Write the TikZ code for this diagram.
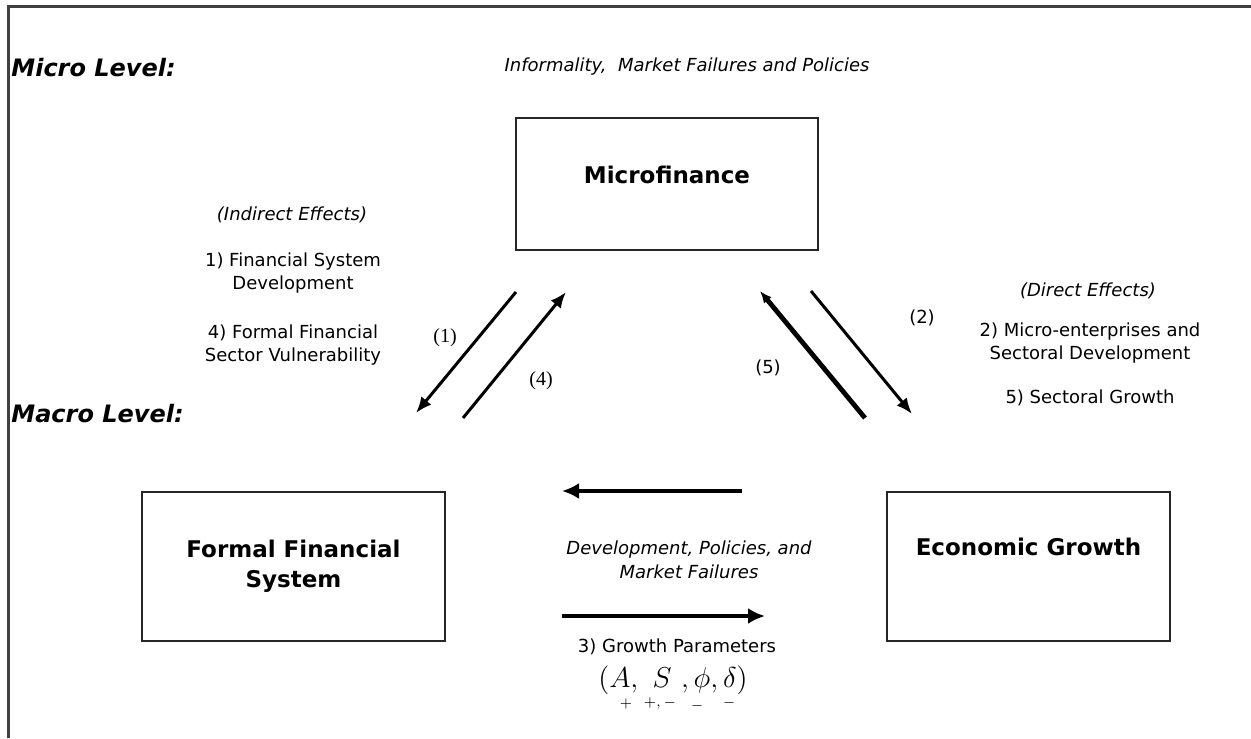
\documentclass[tikz,border=0pt]{standalone}
\usepackage{fontspec}
\setmainfont{DejaVu Sans}
\newfontfamily\numfont{Liberation Serif}
\usetikzlibrary{arrows.meta}
\newcommand{\smallText}[0]{\fontsize{9}{11.5}\selectfont}

\begin{document}
\begin{tikzpicture}[x=0.5pt, y=-0.5pt, >={Latex[length=8pt,width=6.5pt]}]
  \tikzset{box/.style={draw=black!85, line width=1pt, inner sep=0pt, align=center,
      font=\fontsize{11.5}{15}\selectfont\bfseries},
    level/.style={anchor=west, inner sep=0pt, font=\fontsize{12}{14}\selectfont\bfseries\itshape},
    note/.style={align=center, inner sep=0pt, font=\smallText},
    inote/.style={note, font=\smallText\itshape},
    tag/.style={inner sep=0pt, font=\smallText},
    link/.style={->, line width=1.5pt},
    sign/.style={inner sep=0pt, font=\fontsize{7}{7}\selectfont}}
  \useasboundingbox (0,0) rectangle (1251,738);
  \draw[black!75, line width=1.5pt] (8,738) -- (8,7) -- (1251,7);

  \node[level] (microLevel) at (11,68) {Micro Level:};
  \node[level] (macroLevel) at (11,414) {Macro Level:};
  \node[inote] (informality) at (687,67) {Informality,\ \ Market Failures and Policies};

  \node[box, minimum width=151pt, minimum height=66pt, text depth=9pt] (micro) at (667,184) {Microfinance};
  \node[box, minimum width=151.5pt, minimum height=74.5pt] (formal) at (293.5,566.5) {Formal Financial\\System};
  \node[box, minimum width=141.5pt, minimum height=74.5pt, text depth=20pt] (growth) at (1028.5,566.5) {Economic Growth};

  \node[inote] (indirect) at (292,215) {(Indirect Effects)};
  \node[note] (effOne) at (293,273) {1) Financial System\\Development};
  \node[note] (effFour) at (293,345) {4) Formal Financial\\Sector Vulnerability};
  \node[inote] (direct) at (1088,291) {(Direct Effects)};
  \node[note] (effTwo) at (1090,343) {2) Micro-enterprises and\\Sectoral Development};
  \node[note] (effFive) at (1090,398) {5) Sectoral Growth};

  \node[inote, font=\fontsize{9}{12}\selectfont\itshape] (devNote) at (689,560) {Development, Policies, and\\Market Failures};
  \node[note] (params) at (677,647) {3) Growth Parameters};
  \node[inner sep=0pt, font=\fontsize{15}{15}\selectfont] (formula) at (673,680) {$(A,\ S\ ,\phi,\delta)$};
  \node[sign] (signA) at (626,704) {$+$};
  \node[sign] (signS) at (660,704) {$+,-$};
  \node[sign] (signPhi) at (697,706) {$-$};
  \node[sign] (signDelta) at (729,703) {$-$};

  \node[tag, font=\fontsize{10}{12}\numfont] (tagOne) at (445,338) {(1)};
  \node[tag, font=\fontsize{10}{12}\numfont] (tagFour) at (541,381) {(4)};
  \node[tag] (tagFive) at (768,368) {(5)};
  \node[tag] (tagTwo) at (922,318) {(2)};

  \coordinate (oneFrom) at (516,292);
  \coordinate (oneTo) at (416,413);
  \coordinate (fourFrom) at (463,418);
  \coordinate (fourTo) at (566,292);
  \coordinate (fiveFrom) at (865,418);
  \coordinate (fiveTo) at (760,291);
  \coordinate (twoFrom) at (811,291);
  \coordinate (twoTo) at (912,414);
  \coordinate (backFrom) at (742,491);
  \coordinate (backTo) at (562,491);
  \coordinate (threeFrom) at (562,616);
  \coordinate (threeTo) at (765,616);

  \draw[link] (oneFrom) -- (oneTo);
  \draw[link] (fourFrom) -- (fourTo);
  \draw[link, line width=2.4pt, >={Latex[length=6pt,width=5pt]}] (fiveFrom) -- (fiveTo);
  \draw[link] (twoFrom) -- (twoTo);
  \draw[link, line width=1.6pt, >={Latex[length=8.5pt,width=8pt]}] (backFrom) -- (backTo);
  \draw[link, line width=1.8pt, >={Latex[length=8.5pt,width=8pt]}] (threeFrom) -- (threeTo);
\end{tikzpicture}
\end{document}
